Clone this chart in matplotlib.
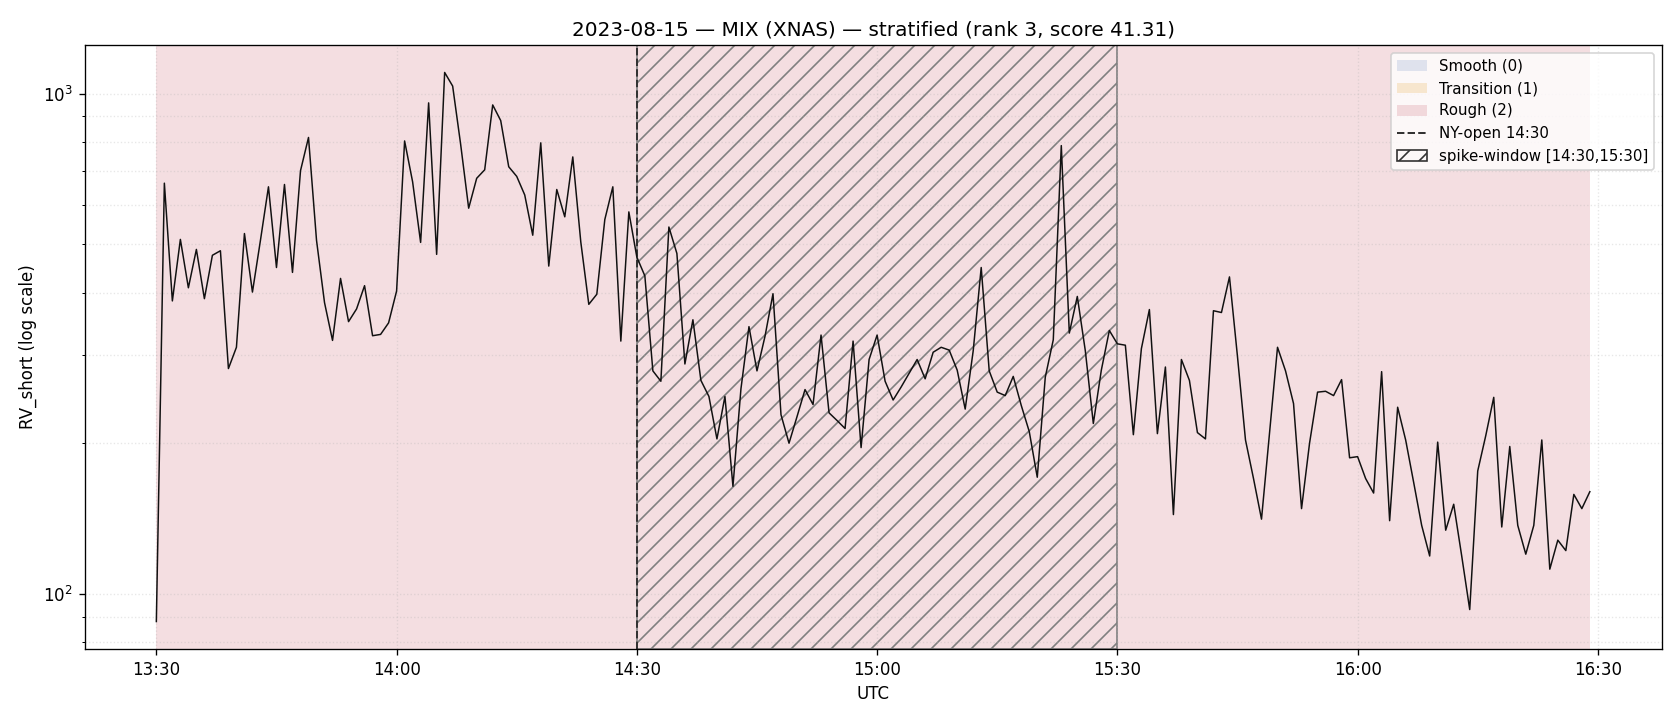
import numpy as np
import pandas as pd
import matplotlib
matplotlib.use("Agg")
import matplotlib.pyplot as plt
import matplotlib.dates as mdates
from matplotlib.patches import Patch
from matplotlib.lines import Line2D

# session: one RV_short value per minute starting 13:30 UTC
start = "2023-08-15 13:30"
ny_open = "2023-08-15 14:30"
spike_end = "2023-08-15 15:30"

rv_short = [
    88, 662, 385, 511, 409, 488, 389, 475, 485, 282,
    311, 525, 401, 509, 651, 449, 658, 439, 701, 817,
    509, 382, 321, 427, 350, 371, 413, 328, 330, 348,
    403, 804, 666, 504, 958, 477, 1102, 1035, 791, 590,
    677, 704, 949, 883, 714, 683, 627, 521, 797, 452,
    643, 567, 747, 505, 379, 397, 560, 651, 320, 580,
    471, 432, 279, 266, 541, 479, 288, 353, 267, 248,
    204, 248, 164, 257, 342, 279, 327, 398, 228, 200,
    226, 256, 239, 329, 230, 222, 214, 320, 196, 294,
    329, 266, 244, 259, 276, 294, 269, 304, 311, 307,
    280, 234, 306, 449, 279, 253, 249, 272, 238, 211,
    171, 271, 322, 787, 332, 393, 306, 219, 280, 336,
    316, 314, 208, 309, 370, 209, 284, 144, 294, 267,
    210, 204, 368, 365, 430, 298, 203, 170, 141, 209,
    311, 279, 240, 148, 200, 253, 254, 249, 268, 187,
    188, 170, 159, 278, 140, 236, 203, 167, 137, 119,
    201, 134, 151, 119, 93, 176, 207, 247, 136, 197,
    137, 120, 137, 203, 112, 128, 122, 158, 148, 160,
]

regime_colors = {
    "Smooth (0)": ("#3e66af", 0.15),
    "Transition (1)": ("#e6a028", 0.2),
    "Rough (2)": ("#b2182b", 0.14),
}

times = pd.date_range(start, periods=len(rv_short), freq="min")

fig, ax = plt.subplots(figsize=(14, 6), dpi=120)
fig.subplots_adjust(left=0.0504, right=0.989, bottom=0.0986, top=0.9375)

# whole session is the rough regime
rough_c, rough_a = regime_colors["Rough (2)"]
ax.axvspan(times[0], times[-1], color=rough_c, alpha=rough_a, lw=0)

ax.axvspan(pd.Timestamp(ny_open), pd.Timestamp(spike_end), facecolor="none",
           edgecolor="gray", hatch="//", lw=1.0)
ax.axvline(pd.Timestamp(ny_open), color="#333333", ls="--", lw=1.2)

ax.plot(times, rv_short, color="#111111", lw=0.9)

ax.set_yscale("log")
ax.xaxis.set_major_locator(mdates.MinuteLocator(byminute=[0, 30]))
ax.xaxis.set_major_formatter(mdates.DateFormatter("%H:%M"))
ax.grid(True, which="both", ls=":", lw=0.8, alpha=0.3)

ax.set_xlabel("UTC")
ax.set_ylabel("RV_short (log scale)")
ax.set_title("2023-08-15 — MIX (XNAS) — stratified (rank 3, score 41.31)")

handles = [Patch(facecolor=c, alpha=a, label=k) for k, (c, a) in regime_colors.items()]
handles.append(Line2D([0], [0], color="#333333", ls="--", lw=1.2, label="NY-open 14:30"))
handles.append(Patch(facecolor="none", edgecolor="#333333", hatch="//",
                     label="spike-window [14:30,15:30]"))
ax.legend(handles=handles, loc="upper right", fontsize=9)

fig.savefig("out.png")
